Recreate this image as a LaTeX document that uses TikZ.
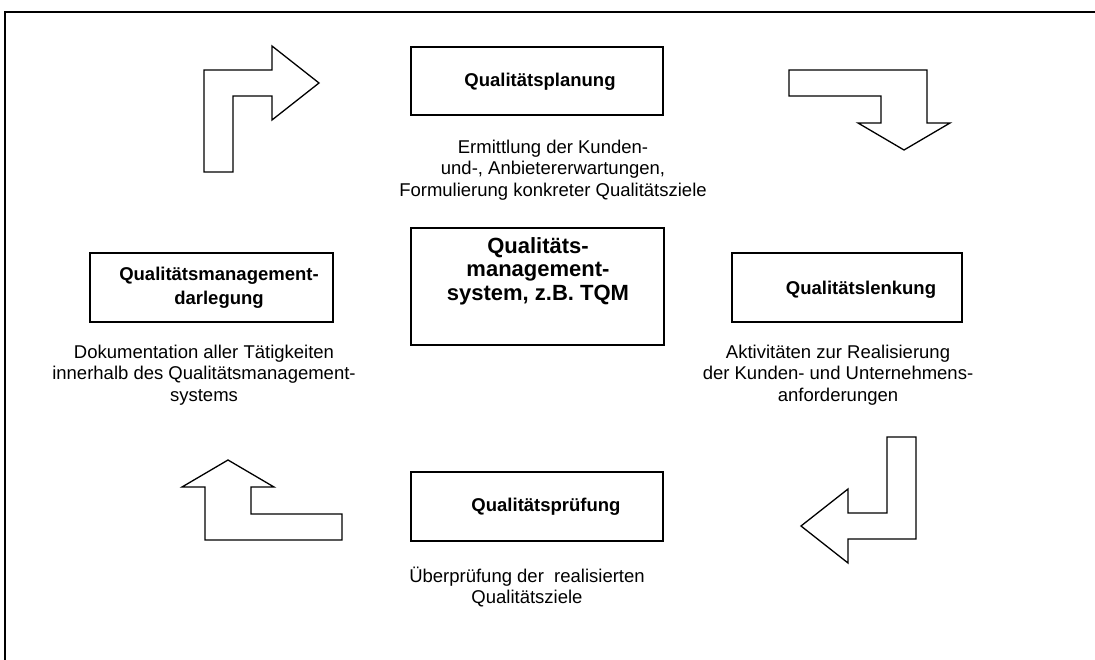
\documentclass[tikz,border=0pt]{standalone}
\usepackage{fontspec}
\setmainfont{Liberation Sans}
\begin{document}
\begin{tikzpicture}[x=1pt,y=-1pt,
  box/.style={draw, line width=1.3pt, inner sep=0pt, rectangle},
  boxtext/.style={font=\bfseries\fontsize{18.5}{24}\selectfont, align=center, inner sep=0pt},
  bigtext/.style={font=\bfseries\fontsize{22}{23.5}\selectfont, align=center, inner sep=0pt},
  desc/.style={font=\fontsize{18.5}{21.5}\selectfont, align=center, inner sep=0pt},
  bent/.style={draw, line width=1.3pt, line join=miter}]
\useasboundingbox (0,0) rectangle (1095,660);

% frame (only its top and left sides fall inside the page)
\draw[line width=1.5pt] (5,700) -- (5,12) -- (1120,12);

% boxes
\node[box, minimum width=252pt, minimum height=68pt] (plan) at (537,81) {};
\node[box, minimum width=253pt, minimum height=117pt] (qms) at (537.5,286.5) {};
\node[box, minimum width=243pt, minimum height=69pt] (darl) at (211.5,287.5) {};
\node[box, minimum width=230pt, minimum height=69pt] (lenk) at (847,287.5) {};
\node[box, minimum width=252pt, minimum height=69pt] (pruef) at (537,506.5) {};

% box labels
\node[boxtext] (planT) at (540,82) {Qualitätsplanung};
\node[bigtext] (qmsT) at (538,271) {Qualitäts-\\management-\\system, z.B. TQM};
\node[boxtext] (darlT) at (219,288) {Qualitätsmanagement-\\darlegung};
\node[boxtext] (lenkT) at (861,290) {Qualitätslenkung};
\node[boxtext] (pruefT) at (546,507) {Qualitätsprüfung};

% descriptions
\node[desc] (planD) at (553,170) {Ermittlung der Kunden-\\und-, Anbietererwartungen,\\Formulierung konkreter Qualitätsziele};
\node[desc] (darlD) at (204,375) {Dokumentation aller Tätigkeiten\\innerhalb des Qualitätsmanagement-\\systems};
\node[desc] (lenkD) at (838,375) {Aktivitäten zur Realisierung\\der Kunden- und Unternehmens-\\anforderungen};
\node[desc] (pruefD) at (527,587) {Überprüfung der \ realisierten\\Qualitätsziele};

% bent block arrows around the cycle
\draw[bent] (204,172) -- (204,70) -- (272,70) -- (272,46) -- (319,83) -- (272,120)
  -- (272,96) -- (233,96) -- (233,172) -- cycle;
\draw[bent] (789,70) -- (927,70) -- (927,123) -- (950,123) -- (904,150) -- (858,123)
  -- (881,123) -- (881,96) -- (789,96) -- cycle;
\draw[bent] (916,437) -- (916,539) -- (848,539) -- (848,563) -- (801,526) -- (848,489)
  -- (848,513) -- (887,513) -- (887,437) -- cycle;
\draw[bent] (342,514) -- (342,540) -- (205,540) -- (205,487) -- (182,487) -- (228,460)
  -- (274,487) -- (251,487) -- (251,514) -- cycle;
\end{tikzpicture}
\end{document}
